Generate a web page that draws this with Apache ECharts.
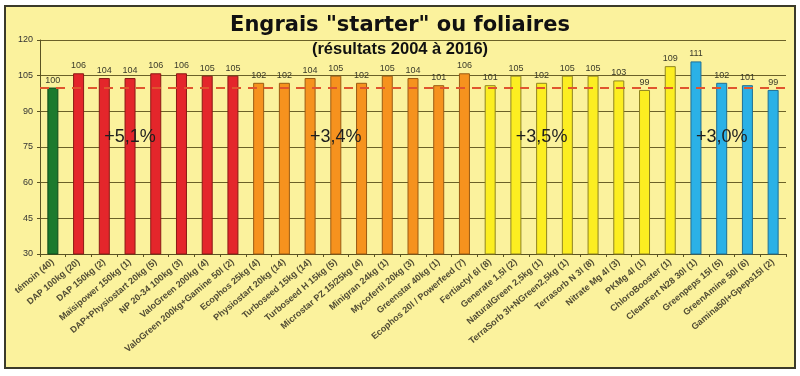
<!DOCTYPE html>
<html>
<head>
<meta charset="utf-8">
<script src="https://cdn.jsdelivr.net/npm/echarts@6/dist/echarts.min.js"></script>
<style>
	html, body { margin: 0; padding: 0; background: #ffffff; }
	#chart { width: 800px; height: 376px; }
</style>
</head>
<body>
<div id="chart"></div>
<script>
// produits testés (nombre d'essais)
var categories = [
	"témoin (40)", "DAP 100kg (20)", "DAP 150kg (2)", "Maïsipower 150kg (1)",
	"DAP+Physiostart 20kg (5)", "NP 20-34 100kg (3)", "ValoGreen 200kg (4)",
	"ValoGreen 200kg+Gamine 50l (2)", "Ecophos 25kg (4)", "Physiostart 20kg (14)",
	"Turboseed 15kg (14)", "Turboseed H 15kg (5)", "Microstar PZ 15/25kg (4)",
	"Minigran 24kg (1)", "Mycofertil 20kg (3)", "Greenstar 40kg (1)",
	"Ecophos 20l / Powerfeed (7)", "Fertiactyl 6l (8)", "Generate 1,5l (2)",
	"NaturalGreen 2,5kg (1)", "TerraSorb 3l+NGreen2,5kg (1)", "Terrasorb N 3l (8)",
	"Nitrate Mg 4l (3)", "PKMg 4l (1)", "ChloroBooster (1)", "CleanFert N28 30l (1)",
	"Greenpeps 15l (5)", "GreenAmine 50l (6)", "Gamina50l+Gpeps15l (2)"
];
var values = [100, 106, 104, 104, 106, 106, 105, 105, 102, 102, 104, 105, 102, 105,
	104, 101, 106, 101, 105, 102, 105, 105, 103, 99, 109, 111, 102, 101, 99];
// famille de chaque produit
var groups = ["temoin", "sol", "sol", "sol", "sol", "sol", "sol", "sol",
	"micro", "micro", "micro", "micro", "micro", "micro", "micro", "micro", "micro",
	"foliaire", "foliaire", "foliaire", "foliaire", "foliaire", "foliaire", "foliaire", "foliaire",
	"bio", "bio", "bio", "bio"];
// gains moyens par famille
var gainLabels = ["+5,1%", "+3,4%", "+3,5%", "+3,0%"];
var gainAt = [2.96, 10.97, 18.6, 25.7];
var gainLevel = 79;
var yTicks = [30, 45, 60, 75, 90, 105, 120];
var refValue = 100;

var groupColors = {
	temoin: ["#1c7a2e", "#0f4a1a"],
	sol: ["#e4262b", "#8a1a14"],
	micro: ["#f6921e", "#9a5a12"],
	foliaire: ["#fcee21", "#8f8420"],
	bio: ["#2bb1e6", "#1f6f95"]
};

var chart = echarts.init(document.getElementById("chart"));
var option = {
	backgroundColor: "#ffffff",
	graphic: [
		{
			type: "rect",
			left: 4, top: 5,
			shape: { width: 790, height: 362 },
			style: { fill: "#fbf29d", stroke: "#3b3a2a", lineWidth: 2 },
			z: -10
		}
	],
	title: [
		{
			text: 'Engrais "starter" ou foliaires',
			left: "center",
			top: 10,
			textStyle: { fontFamily: "DejaVu Sans", fontSize: 21, fontWeight: "bold", color: "#111" }
		},
		{
			text: "(résultats 2004 à 2016)",
			left: "center",
			top: 36,
			textStyle: { fontFamily: "Liberation Sans", fontSize: 16.5, fontWeight: "bold", color: "#111" }
		}
	],
	grid: {
		left: 40,
		right: 14,
		top: 40,
		bottom: 122,
		containLabel: false
	},
	xAxis: {
		type: "category",
		data: categories,
		axisLine: { show: true, lineStyle: { color: "#5a5322", width: 1 } },
		axisTick: { show: true, alignWithLabel: false, length: 3, lineStyle: { color: "#5a5322" } },
		axisLabel: {
			interval: 0,
			rotate: 40,
			margin: 7,
			fontFamily: "Liberation Sans",
			fontSize: 9,
			fontWeight: "bold",
			color: "#514c34"
		},
		splitLine: { show: false }
	},
	yAxis: {
		type: "value",
		min: yTicks[0],
		max: yTicks[yTicks.length - 1],
		interval: 15,
		axisLine: { show: true, lineStyle: { color: "#5a5322", width: 1 } },
		axisTick: { show: true, length: 3, lineStyle: { color: "#5a5322" } },
		axisLabel: { fontFamily: "Liberation Sans", fontSize: 9, color: "#333", margin: 7 },
		splitLine: { show: true, lineStyle: { color: "#6b6128", width: 1 } }
	},
	series: [
		{
			type: "bar",
			barWidth: 11,
			data: values.map(function (v, i) {
				var c = groupColors[groups[i]];
				return {
					value: v,
					itemStyle: { color: c[0], borderColor: c[1], borderWidth: 1 }
				};
			}),
			label: {
				show: true,
				position: "top",
				distance: 3,
				fontFamily: "Liberation Sans",
				fontSize: 9,
				color: "#3a3a2a"
			},
			markLine: {
				silent: true,
				symbol: "none",
				label: { show: false },
				lineStyle: { color: "#e0552e", type: [9, 7], width: 1.8 },
				data: [{ yAxis: refValue }]
			},
			markPoint: {
				symbol: "circle",
				symbolSize: 0,
				label: {
					show: true,
					position: "inside",
					fontFamily: "Liberation Sans",
					fontSize: 18,
					color: "#1e1e1e",
					formatter: function (p) { return p.name; }
				},
				data: gainLabels.map(function (t, i) {
					return { name: t, coord: [gainAt[i], gainLevel] };
				})
			}
		}
	]
};
chart.setOption(option);
</script>
</body>
</html>
